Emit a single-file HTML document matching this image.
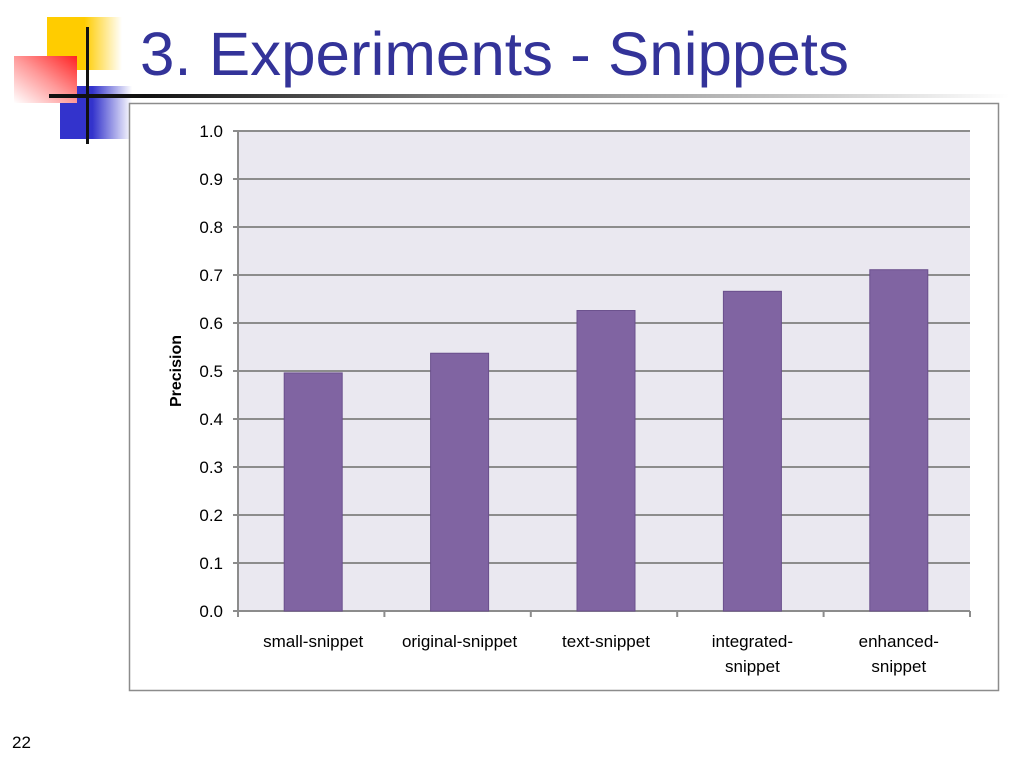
<!DOCTYPE html>
<html><head><meta charset="utf-8"><style>
body{margin:0;width:1024px;height:768px;background:#fff;overflow:hidden;position:relative;font-family:"Liberation Sans","DejaVu Sans",sans-serif}
.abs{position:absolute}
</style></head><body>
<div class="abs" style="left:47px;top:17px;width:75px;height:53px;background:linear-gradient(to right,#ffcc00 50%,#fff)"></div>
<div class="abs" style="left:60px;top:86px;width:72px;height:53px;background:linear-gradient(to right,#3333cc 45%,#fff)"></div>
<div class="abs" style="left:14px;top:56px;width:63px;height:47px;background:linear-gradient(to top right,#fff 0%,#ff9999 50%,#ff2222 100%)"></div>
<div class="abs" style="left:86px;top:27px;width:3px;height:117px;background:#111"></div>
<div class="abs" style="left:49px;top:94px;width:960px;height:4px;background:linear-gradient(to right,#111 10%,#777 40%,#ccc 80%,#fff)"></div>
<div class="abs" style="left:140px;top:18px;font-size:61px;color:#333399;line-height:72px;white-space:nowrap;transform:scaleX(1.015);transform-origin:left top">3. Experiments - Snippets</div>
<div class="abs" style="left:12px;top:733px;font-size:17px;color:#000">22</div>
<svg class="abs" style="left:0;top:0" width="1024" height="768">
<rect x="129.5" y="103.5" width="869" height="587" fill="#fff" stroke="#8c8c8c" stroke-width="1.5"/>
<g id="g"></g>
</svg>
<script>
const categories=[["small-snippet"],["original-snippet"],["text-snippet"],["integrated-","snippet"],["enhanced-","snippet"]];
const values=[0.496,0.537,0.626,0.666,0.711];
const ticks=["0.0","0.1","0.2","0.3","0.4","0.5","0.6","0.7","0.8","0.9","1.0"];
const X0=238,X1=970,Y0=611,Y1=131;
const y=v=>Y0-(Y0-Y1)*v;
const bw=(X1-X0)/categories.length;
const g=document.getElementById('g');
const NS='http://www.w3.org/2000/svg';
function mk(t,a){const e=document.createElementNS(NS,t);for(const k in a)e.setAttribute(k,a[k]);g.appendChild(e);return e;}
let e=mk('rect',{x:X0,y:Y1,width:X1-X0,height:Y0-Y1,fill:'#eae8f0'});


ticks.forEach((t,i)=>{const v=i/10,yy=y(v);
 let l=mk('line',{x1:X0-5,x2:X1,y1:yy,y2:yy,stroke:'#8c8c8c','stroke-width':2});
 
 
 let tx=mk('text',{x:X0-15,y:yy+6,'text-anchor':'end','font-size':17,fill:'#000'});tx.textContent=t;
 
 
});
let ax=mk('line',{x1:X0,x2:X0,y1:Y1,y2:Y0,stroke:'#8c8c8c','stroke-width':2});


for(let i=0;i<=categories.length;i++){const xx=X0+bw*i;
 let l=mk('line',{x1:xx,x2:xx,y1:Y0,y2:Y0+6,stroke:'#8c8c8c','stroke-width':2});
 
 
}
values.forEach((v,i)=>{const cx=X0+bw*(i+0.5)+2;
 let r=mk('rect',{x:cx-29,y:y(v),width:58,height:Y0-y(v),fill:'#8064a2',stroke:'#6a4f8c','stroke-width':1});
 
 
 categories[i].forEach((s,j)=>{let t=mk('text',{x:cx,y:647+j*25,'text-anchor':'middle','font-size':17,fill:'#000'});t.textContent=s;
  
  });
});
let yt=mk('text',{x:0,y:0,transform:'translate(181,371) rotate(-90)','text-anchor':'middle','font-size':16,'font-weight':'bold',fill:'#000'});
yt.textContent='Precision';


</script>
</body></html>
